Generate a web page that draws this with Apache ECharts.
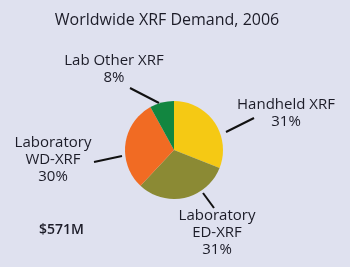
<!DOCTYPE html>
<html><head><meta charset="utf-8">
<script src="https://cdn.jsdelivr.net/npm/echarts@6/dist/echarts.min.js"></script>
<style>html,body{margin:0;padding:0;background:#dfe1ef;}#c{width:350px;height:267px;}</style>
</head><body><div id="c"></div>
<script>
const titleText = "Worldwide XRF Demand, 2006";
const totalText = "$571M";
const categories = ["Handheld XRF", "Laboratory\nED-XRF", "Laboratory\nWD-XRF", "Lab Other XRF"];
const values = [31, 31, 30, 8];
const colors = ["#f5c914", "#8b8a34", "#f16b23", "#128640"];

const labelPos = [
  {x: 286, y: 96, line: [[226, 132], [254, 118]]},
  {x: 217, y: 207, line: [[203, 193], [214, 208]]},
  {x: 53, y: 134, line: [[122, 156], [94, 162]]},
  {x: 114, y: 52, line: [[159, 103], [130, 88]]}
];
const chart = echarts.init(document.getElementById('c'));
chart.setOption({
  backgroundColor: '#dfe1ef',
  title: {text: titleText, left: 162, textAlign: 'center', top: 7,
    textStyle: {fontFamily: 'Open Sans', fontSize: 16, fontWeight: 'normal', color: '#1c1c28'}},
  graphic: [{type: 'text', left: 39, top: 223,
    style: {text: totalText, font: '600 14px "Open Sans"', fill: '#1c1c28'}}],
  series: [{
    type: 'pie', center: [174, 150], radius: 49, startAngle: 90,
    animation: false,
    data: categories.map((c, i) => ({name: c, value: values[i], itemStyle: {color: colors[i]}})),
    label: {formatter: p => p.name + '\n' + p.value + '%', fontFamily: 'Open Sans', fontSize: 15,
      lineHeight: 17, color: '#1c1c28', align: 'center'},
    labelLine: {show: true, length: 8, length2: 0, lineStyle: {color: '#111', width: 2}},
    labelLayout: p => ({x: labelPos[p.dataIndex].x, y: labelPos[p.dataIndex].y,
      align: 'center', verticalAlign: 'top', labelLinePoints: labelPos[p.dataIndex].line})
  }]
});
</script></body></html>
